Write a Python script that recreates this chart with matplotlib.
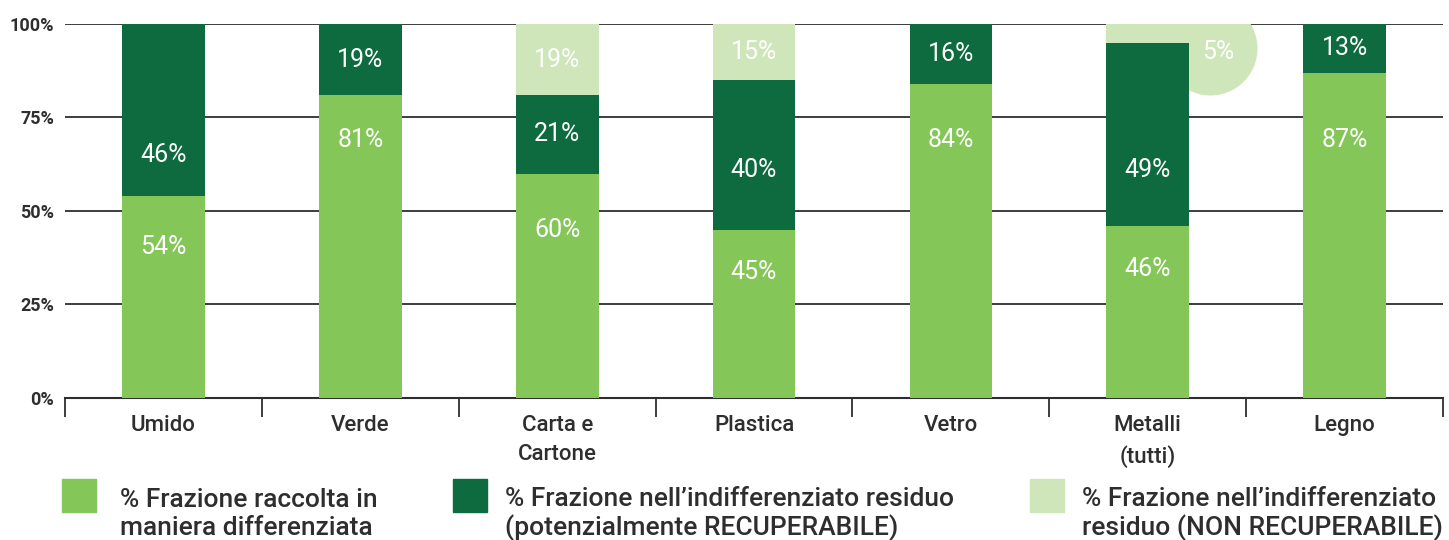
import matplotlib
matplotlib.use("Agg")
import matplotlib.pyplot as plt
from matplotlib.patches import Rectangle

# ==============================================================================
# DATI
# ==============================================================================
CATEGORIE = ["Umido", "Verde", "Carta e\nCartone", "Plastica", "Vetro", "Metalli\n(tutti)", "Legno"]
DIFFERENZIATA = [54, 81, 60, 45, 84, 46, 87]
RECUPERABILE = [46, 19, 21, 40, 16, 49, 13]
NON_RECUPERABILE = [0, 0, 19, 15, 0, 5, 0]
Y_TICKS = [0, 25, 50, 75, 100]
LEGENDA = [
    "% Frazione raccolta in\nmaniera differenziata",
    "% Frazione nell\u2019indifferenziato residuo\n(potenzialmente RECUPERABILE)",
    "% Frazione nell\u2019indifferenziato\nresiduo (NON RECUPERABILE)",
]

# --- Stile ---
VERDE_CHIARO = "#85c658"
VERDE_SCURO = "#0d6b3f"
VERDE_PALLIDO = "#cfe6ba"
GRIGIO = "#2e2e2e"
FONT = "Roboto"
LARGHEZZA = 0.42
FS_BARRE = 18

plt.rcParams["font.family"] = [FONT, "DejaVu Sans"]

fig = plt.figure(figsize=(14.49, 5.40), dpi=100)
ax = fig.add_axes([0.0449, 0.263, 0.951, 0.6926])

x = list(range(len(CATEGORIE)))
base2 = [a + b for a, b in zip(DIFFERENZIATA, RECUPERABILE)]

ax.bar(x, DIFFERENZIATA, LARGHEZZA, color=VERDE_CHIARO, zorder=3)
ax.bar(x, RECUPERABILE, LARGHEZZA, bottom=DIFFERENZIATA, color=VERDE_SCURO, zorder=3)
ax.bar(x, NON_RECUPERABILE, LARGHEZZA, bottom=base2, color=VERDE_PALLIDO, zorder=3)

# etichette nei segmenti (posizionate come nell'originale, non sempre al centro)
for i in x:
    g, d, n = DIFFERENZIATA[i], RECUPERABILE[i], NON_RECUPERABILE[i]
    y_g = 0.75 * g if g < 70 else 69
    y_d = max(g + 11, 61) if d >= 30 else g + d / 2
    ax.text(i, y_g, f"{g}%", color="white", fontsize=FS_BARRE,
            ha="center", va="center", zorder=5)
    ax.text(i, y_d, f"{d}%", color="white", fontsize=FS_BARRE,
            ha="center", va="center", zorder=5)
    if n >= 8:
        ax.text(i, base2[i] + n / 2, f"{n}%", color="white", fontsize=FS_BARRE,
                ha="center", va="center", zorder=5)
    elif n > 0:
        # valore troppo piccolo: bolla accanto alla barra
        ax.scatter([i + 0.315], [93.6], s=4580, color=VERDE_PALLIDO, zorder=2,
                   linewidths=0)
        ax.text(i + 0.36, 92.6, f"{n}%", color="white", fontsize=FS_BARRE,
                ha="center", va="center", zorder=5)

ax.set_xlim(-0.5, len(CATEGORIE) - 0.5)
ax.set_ylim(0, 100)

ax.set_yticks(Y_TICKS)
ax.set_yticklabels([f"{t}%" for t in Y_TICKS], fontsize=13, fontweight="bold", color=GRIGIO)
ax.tick_params(axis="y", length=0, pad=8)
ax.yaxis.grid(True, color=GRIGIO, linewidth=1.3)
ax.set_axisbelow(True)

ax.set_xticks(x)
ax.set_xticklabels(CATEGORIE, fontsize=16, fontweight="medium", color=GRIGIO, linespacing=1.55)
ax.tick_params(axis="x", which="major", length=0, pad=12)
ax.set_xticks([i - 0.5 for i in range(len(CATEGORIE) + 1)], minor=True)
ax.tick_params(axis="x", which="minor", length=14, width=1.3, color=GRIGIO, direction="out")

for lato in ["top", "right", "left"]:
    ax.spines[lato].set_visible(False)
ax.spines["bottom"].set_color(GRIGIO)
ax.spines["bottom"].set_linewidth(1.5)

# --- Legenda manuale ---
pos_quadrati = [62, 453, 1030]
pos_testi = [120, 505, 1082]
colori = [VERDE_CHIARO, VERDE_SCURO, VERDE_PALLIDO]
for xq, xt, col, txt in zip(pos_quadrati, pos_testi, colori, LEGENDA):
    fig.add_artist(Rectangle((xq / 1449, 28 / 540), 34 / 1449, 33 / 540,
                             transform=fig.transFigure, color=col))
    fig.text(xt / 1449, 26 / 540, txt, fontsize=19, fontweight="medium", color=GRIGIO,
             ha="left", va="center", linespacing=1.2)

fig.savefig("out.png", dpi=100)
